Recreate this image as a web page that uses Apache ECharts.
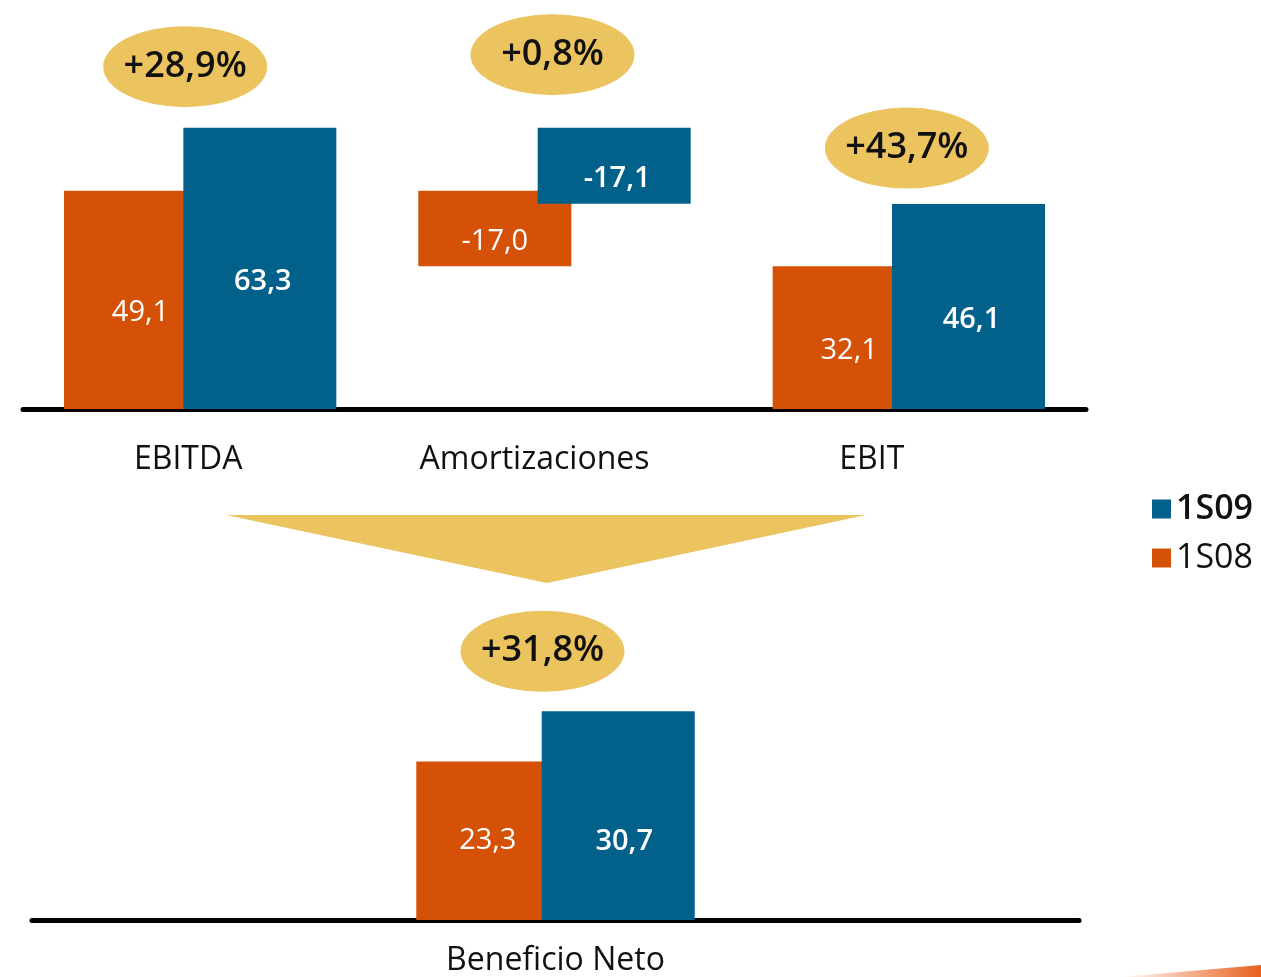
<!DOCTYPE html>
<html>
<head>
<meta charset="utf-8">
<script src="https://cdn.jsdelivr.net/npm/echarts@6/dist/echarts.min.js"></script>
<style>
  html, body { margin: 0; padding: 0; background: #fff; }
  #main { width: 1261px; height: 977px; }
</style>
</head>
<body>
<div id="main"></div>
<script>
// datos (millones de euros)
var categories = ['EBITDA', 'Amortizaciones', 'EBIT'];
var s08 = [49.1, -17.0, 32.1];
var s09 = [63.3, -17.1, 46.1];
var growth = ['+28,9%', '+0,8%', '+43,7%'];

var netCategory = ['Beneficio Neto'];
var net08 = [23.3];
var net09 = [30.7];
var netGrowth = ['+31,8%'];

var ORANGE = '#D55108';
var BLUE = '#02618B';
var YELLOW = '#EBC35F';
var FONT = 'Open Sans';

function fmt(v) {
    return v.toFixed(1).replace('.', ',');
}
// cascada: una barra negativa cuelga del valor anterior
function bases(s) {
    return s.map(function (v, i) { return v < 0 ? s[i - 1] + v : 0; });
}
function heights(s) {
    return s.map(function (v) { return Math.abs(v); });
}
var base08 = bases(s08), h08 = heights(s08);
var base09 = bases(s09), h09 = heights(s09);
var tops = categories.map(function (c, i) {
    return Math.max(base08[i] + h08[i], base09[i] + h09[i]);
});

// desplazamiento de las elipses y etiquetas en px (solo maquetacion)
var ellipseOffsets = [[-15, -61], [-2, -73], [-2, -56]];
var netEllipseOffset = [-13, -60];
var labelShift = [24, 40, 74];

var ellipse = 'path://M0,40A80,40,0,1,1,160,40A80,40,0,1,1,0,40Z';

var chart = echarts.init(document.getElementById('main'));

function barLabel(arr, offset, weight) {
    return {
        show: true,
        position: 'inside',
        offset: offset,
        color: '#fff',
        fontSize: 29,
        fontFamily: FONT,
        fontWeight: weight,
        formatter: function (p) { return fmt(arr[p.dataIndex]); }
    };
}

var growthLabel = {
    show: true,
    position: 'inside',
    color: '#111',
    fontSize: 36,
    fontWeight: 600,
    fontFamily: FONT
};

var option = {
    animation: false,
    textStyle: { fontFamily: FONT },
    legend: {
        orient: 'vertical',
        left: 1147,
        top: 487,
        itemWidth: 19,
        itemHeight: 19,
        itemGap: 15,
        icon: 'rect',
        selectedMode: false,
        textStyle: { fontSize: 34, color: '#111', fontFamily: FONT },
        data: [
            { name: '1S09', textStyle: { fontWeight: 600 } },
            { name: '1S08' }
        ]
    },
    grid: [
        { left: 23, right: 175, top: 9, height: 400 },
        { left: 32, right: 182, top: 614, height: 308 }
    ],
    xAxis: [
        {
            type: 'category', gridIndex: 0,
            data: categories.map(function (c, i) {
                return { value: c, textStyle: { padding: [0, labelShift[i], 0, 0] } };
            }),
            axisLine: { lineStyle: { color: '#000', width: 5 } },
            axisTick: { show: false },
            axisLabel: { fontSize: 32, color: '#111', margin: 35, fontFamily: FONT }
        },
        {
            type: 'category', gridIndex: 1, data: netCategory,
            axisLine: { lineStyle: { color: '#000', width: 5 } },
            axisTick: { show: false },
            axisLabel: { fontSize: 32, color: '#111', margin: 25, fontFamily: FONT }
        }
    ],
    yAxis: [
        { type: 'value', gridIndex: 0, min: 0, max: 90, show: false, splitLine: { show: false } },
        { type: 'value', gridIndex: 1, min: 0, max: 45, show: false, splitLine: { show: false } }
    ],
    series: [
        {
            name: 'base08', type: 'bar', stack: 'o', xAxisIndex: 0, yAxisIndex: 0,
            barWidth: 153, silent: true,
            itemStyle: { color: 'transparent' },
            data: base08
        },
        {
            name: '1S08', type: 'bar', stack: 'o', xAxisIndex: 0, yAxisIndex: 0,
            barWidth: 153, silent: true,
            itemStyle: { color: ORANGE },
            label: barLabel(s08, [0, 13], 'normal'),
            data: h08
        },
        {
            name: 'base09', type: 'bar', stack: 'b', xAxisIndex: 0, yAxisIndex: 0,
            barWidth: 153, silent: true,
            itemStyle: { color: 'transparent' },
            data: base09
        },
        {
            name: '1S09', type: 'bar', stack: 'b', xAxisIndex: 0, yAxisIndex: 0,
            barWidth: 153, barGap: '-22%', silent: true,
            itemStyle: { color: BLUE },
            label: barLabel(s09, [3, 13], 600),
            data: h09
        },
        {
            name: 'crecimiento', type: 'scatter', xAxisIndex: 0, yAxisIndex: 0,
            silent: true, z: 5,
            symbol: ellipse, symbolSize: [164, 81],
            itemStyle: { color: YELLOW, opacity: 1 },
            label: Object.assign({}, growthLabel, {
                formatter: function (p) { return growth[p.dataIndex]; }
            }),
            data: tops.map(function (t, i) {
                return { value: [i, t], symbolOffset: ellipseOffsets[i] };
            })
        },
        // Beneficio Neto
        {
            name: '1S08', type: 'bar', xAxisIndex: 1, yAxisIndex: 1,
            barWidth: 153, silent: true,
            itemStyle: { color: ORANGE },
            label: barLabel(net08, [-5, 0], 'normal'),
            data: net08
        },
        {
            name: '1S09', type: 'bar', xAxisIndex: 1, yAxisIndex: 1,
            barWidth: 153, barGap: '-18%', silent: true,
            itemStyle: { color: BLUE },
            label: barLabel(net09, [6, 26], 600),
            data: net09
        },
        {
            name: 'crecimientoNeto', type: 'scatter', xAxisIndex: 1, yAxisIndex: 1,
            silent: true, z: 5,
            symbol: ellipse, symbolSize: [164, 81],
            itemStyle: { color: YELLOW, opacity: 1 },
            label: Object.assign({}, growthLabel, {
                formatter: function (p) { return netGrowth[p.dataIndex]; }
            }),
            data: [{ value: [0, Math.max(net08[0], net09[0])], symbolOffset: netEllipseOffset }]
        }
    ],
    graphic: [
        {
            // flecha hacia el beneficio neto
            type: 'polygon', silent: true,
            shape: { points: [[226, 515], [866, 515], [547, 583]] },
            style: { fill: YELLOW }
        },
        {
            type: 'polygon', silent: true,
            shape: { points: [[1120, 977], [1261, 965], [1261, 977]] },
            style: {
                fill: new echarts.graphic.LinearGradient(0, 0, 1, 0, [
                    { offset: 0, color: 'rgba(232,96,28,0)' },
                    { offset: 1, color: '#E8601C' }
                ])
            }
        }
    ]
};

chart.setOption(option);
</script>
</body>
</html>
